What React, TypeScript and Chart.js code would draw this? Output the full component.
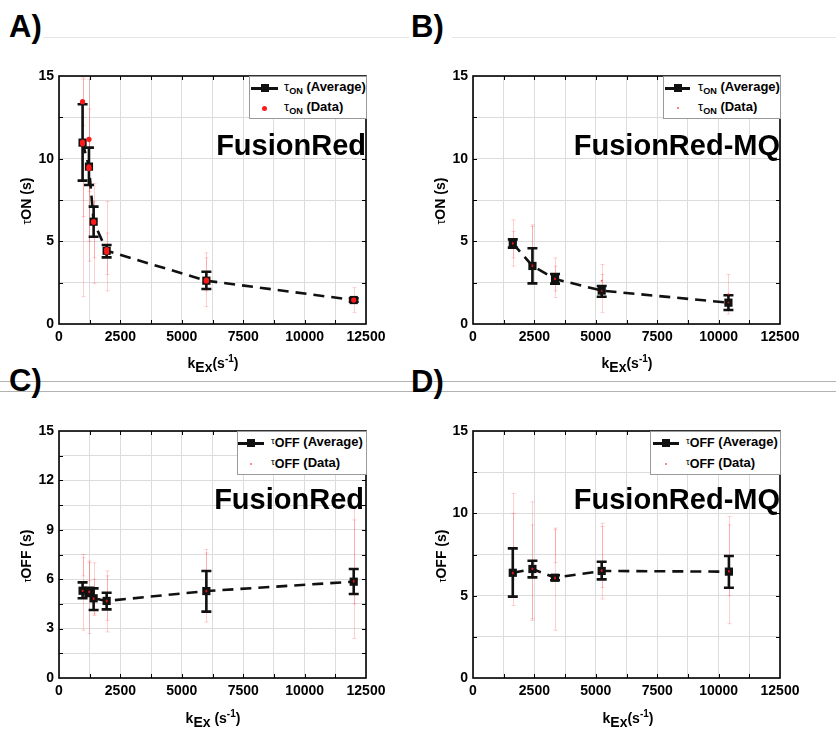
import React, { useEffect, useRef } from "react";
import { Chart, registerables } from "chart.js";

Chart.register(...registerables);

const FONT = '"Liberation Sans", Arial, Helvetica, sans-serif';

// ---------- Panel A : tau_ON, FusionRed ----------
const aAvgX = [960, 1220, 1410, 1940, 6000, 12000];
const aAvgY = [10.97, 9.52, 6.19, 4.43, 2.62, 1.45];
const aAvgLo = [8.67, 8.41, 5.28, 4.03, 2.12, 1.35];
const aAvgHi = [13.29, 10.67, 7.1, 4.78, 3.16, 1.55];
const aDatX = [960, 960, 960, 1220, 1220, 1220, 1410, 1410, 1940, 1940, 6000, 6000, 12000];
const aDatY = [13.45, 11.0, 10.9, 11.17, 9.5, 9.4, 6.2, 6.15, 4.5, 4.35, 2.6, 2.65, 1.45];
const aDatLo = [12.0, 6.5, 1.65, 8.0, 5.0, 3.8, 4.0, 2.45, 2.0, 3.0, 1.05, 2.0, 0.7];
const aDatHi = [14.9, 14.8, 12.5, 14.8, 13.0, 11.0, 8.5, 7.4, 7.4, 5.5, 4.3, 4.0, 2.2];

// ---------- Panel B : tau_ON, FusionRed-MQ ----------
const bAvgX = [1620, 2420, 3340, 5240, 10400];
const bAvgY = [4.88, 3.51, 2.72, 2.02, 1.29];
const bAvgLo = [4.62, 2.46, 2.44, 1.65, 0.85];
const bAvgHi = [5.12, 4.58, 3.02, 2.3, 1.74];
const bDatX = [1620, 1620, 2420, 2420, 3340, 3340, 5240, 5240, 10400, 10400];
const bDatY = [4.9, 4.85, 3.5, 3.55, 2.75, 2.7, 2.62, 2.0, 1.8, 1.3];
const bDatLo = [3.5, 4.0, 2.45, 3.4, 1.6, 2.0, 1.6, 0.7, 0.9, 0.6];
const bDatHi = [6.3, 5.6, 6.0, 5.9, 4.0, 3.5, 3.6, 3.0, 3.0, 1.8];

// ---------- Panel C : tau_OFF, FusionRed ----------
const cAvgX = [960, 1230, 1410, 1940, 6000, 12000];
const cAvgY = [5.3, 5.22, 4.84, 4.68, 5.28, 5.85];
const cAvgLo = [4.84, 4.98, 4.13, 4.17, 4.03, 5.1];
const cAvgHi = [5.81, 5.48, 5.44, 5.18, 6.5, 6.62];
const cDatX = [960, 960, 1230, 1230, 1410, 1410, 1940, 1940, 6000, 6000, 12000, 12000];
const cDatY = [5.3, 5.3, 5.2, 5.25, 4.85, 4.8, 4.7, 4.65, 5.3, 5.25, 5.9, 5.85];
const cDatLo = [2.9, 6.2, 2.7, 5.9, 3.8, 3.9, 2.8, 3.5, 3.4, 5.5, 2.4, 4.5];
const cDatHi = [7.5, 7.3, 7.1, 7.0, 7.0, 6.0, 6.5, 6.2, 7.8, 7.6, 10.3, 9.6];

// ---------- Panel D : tau_OFF, FusionRed-MQ ----------
const dAvgX = [1620, 2420, 3340, 5240, 10420];
const dAvgY = [6.39, 6.62, 6.09, 6.5, 6.46];
const dAvgLo = [4.94, 6.11, 5.94, 5.99, 5.48];
const dAvgHi = [7.87, 7.12, 6.24, 7.06, 7.41];
const dDatX = [1620, 1620, 2420, 2420, 3340, 3340, 5240, 5240, 10420, 10420];
const dDatY = [6.4, 6.35, 6.6, 6.65, 6.1, 6.05, 6.5, 6.55, 6.45, 6.5];
const dDatLo = [4.4, 6.0, 3.5, 3.6, 2.9, 7.0, 4.8, 5.5, 3.3, 5.0];
const dDatHi = [11.2, 10.0, 10.7, 9.3, 9.1, 9.0, 9.4, 9.2, 9.8, 9.3];

// axis ranges / ticks
const xMin = 0;
const xMax = 12500;
const xGridStep = 1250;
const xLabelStep = 2500;
const yMin = 0;
const yMax = 15;

type PanelProps = {
  canvasLeft: number;
  canvasTop: number;
  plotTop: number;
  plotBottom: number;
  avgX: number[];
  avgY: number[];
  avgLo: number[];
  avgHi: number[];
  datX: number[];
  datY: number[];
  datLo: number[];
  datHi: number[];
  yGridStep: number;
  yLabelStep: number;
  dotRadius: number;
  dotColor: string;
};

const CW = 410;
const CH = 300;
const PLOT_LEFT = 59;
const PLOT_RIGHT = 366;

function PanelChart(p: PanelProps) {
  const ref = useRef<HTMLCanvasElement>(null);
  useEffect(() => {
    if (!ref.current) return;
    const topPad = p.plotTop - p.canvasTop;
    const xH = CH - (p.plotBottom - p.canvasTop);

    const errPlugin = {
      id: "errbars",
      beforeDatasetsDraw(chart: any) {
        const { ctx, chartArea: a } = chart;
        const xs = chart.scales.x;
        const ys = chart.scales.y;
        ctx.save();
        ctx.beginPath();
        ctx.rect(a.left, a.top, a.right - a.left, a.bottom - a.top);
        ctx.clip();
        // faint red error bars of individual data
        ctx.strokeStyle = "rgba(255,40,40,0.22)";
        ctx.lineWidth = 1;
        for (let i = 0; i < p.datX.length; i++) {
          const px = Math.round(xs.getPixelForValue(p.datX[i])) + 0.5;
          const y1 = ys.getPixelForValue(p.datLo[i]);
          const y2 = ys.getPixelForValue(p.datHi[i]);
          ctx.beginPath();
          ctx.moveTo(px, y1);
          ctx.lineTo(px, y2);
          ctx.moveTo(px - 2, y1);
          ctx.lineTo(px + 2, y1);
          ctx.moveTo(px - 2, y2);
          ctx.lineTo(px + 2, y2);
          ctx.stroke();
        }
        // black error bars of averages
        ctx.strokeStyle = "#111";
        ctx.lineWidth = 2.6;
        for (let i = 0; i < p.avgX.length; i++) {
          const px = xs.getPixelForValue(p.avgX[i]);
          const y1 = ys.getPixelForValue(p.avgLo[i]);
          const y2 = ys.getPixelForValue(p.avgHi[i]);
          ctx.beginPath();
          ctx.moveTo(px, y1);
          ctx.lineTo(px, y2);
          ctx.moveTo(px - 5, y1);
          ctx.lineTo(px + 5, y1);
          ctx.moveTo(px - 5, y2);
          ctx.lineTo(px + 5, y2);
          ctx.stroke();
        }
        ctx.restore();
      },
      afterDraw(chart: any) {
        const { ctx, chartArea: a } = chart;
        const xs = chart.scales.x;
        const ys = chart.scales.y;
        ctx.save();
        ctx.strokeStyle = "#000";
        ctx.lineWidth = 1;
        ctx.beginPath();
        for (const t of xs.ticks) {
          const px = Math.round(xs.getPixelForValue(t.value)) + 0.5;
          if (px <= a.left + 2 || px >= a.right - 2) continue;
          ctx.moveTo(px, a.bottom);
          ctx.lineTo(px, a.bottom - 4);
          ctx.moveTo(px, a.top);
          ctx.lineTo(px, a.top + 4);
        }
        for (const t of ys.ticks) {
          const py = Math.round(ys.getPixelForValue(t.value)) + 0.5;
          if (py <= a.top + 2 || py >= a.bottom - 2) continue;
          ctx.moveTo(a.left, py);
          ctx.lineTo(a.left + 4, py);
          ctx.moveTo(a.right, py);
          ctx.lineTo(a.right - 4, py);
        }
        ctx.stroke();
        ctx.lineWidth = 1.6;
        ctx.strokeRect(a.left, a.top, a.right - a.left, a.bottom - a.top);
        ctx.restore();
      },
    };

    const isMult = (v: number, s: number) => Math.abs(v / s - Math.round(v / s)) < 1e-6;

    const chart = new Chart(ref.current, {
      type: "scatter",
      data: {
        datasets: [
          {
            label: "Data",
            data: p.datX.map((x, i) => ({ x, y: p.datY[i] })),
            showLine: false,
            pointStyle: "circle",
            pointRadius: p.dotRadius,
            pointBackgroundColor: p.dotColor,
            pointBorderWidth: 0,
          },
          {
            label: "Average",
            data: p.avgX.map((x, i) => ({ x, y: p.avgY[i] })),
            showLine: true,
            borderColor: "#111",
            borderWidth: 2.6,
            borderDash: [11, 7],
            pointStyle: "rect",
            pointRadius: 5.8,
            pointBackgroundColor: "#111",
            pointBorderColor: "#111",
            pointBorderWidth: 0,
          },
        ],
      },
      options: {
        animation: false,
        responsive: false,
        maintainAspectRatio: false,
        events: [],
        layout: { padding: { left: 0, top: topPad, right: CW - PLOT_RIGHT, bottom: 0 } },
        plugins: { legend: { display: false }, tooltip: { enabled: false } },
        scales: {
          x: {
            type: "linear",
            min: xMin,
            max: xMax,
            ticks: {
              stepSize: xGridStep,
              autoSkip: false,
              maxRotation: 0,
              padding: 5,
              color: "#000",
              font: { family: FONT, size: 14, weight: "bold" },
              callback: (v: any) => (isMult(Number(v), xLabelStep) ? String(v) : ""),
            },
            grid: { color: "#dcdcdc", lineWidth: 1, drawTicks: false },
            border: { display: false },
            afterFit: (s: any) => {
              s.height = xH;
            },
          },
          y: {
            type: "linear",
            min: yMin,
            max: yMax,
            ticks: {
              stepSize: p.yGridStep,
              autoSkip: false,
              padding: 5,
              color: "#000",
              font: { family: FONT, size: 14, weight: "bold" },
              callback: (v: any) => (isMult(Number(v), p.yLabelStep) ? String(Math.round(Number(v))) : ""),
            },
            grid: { color: "#dcdcdc", lineWidth: 1, drawTicks: false },
            border: { display: false },
            afterFit: (s: any) => {
              s.width = PLOT_LEFT;
            },
          },
        },
      } as any,
      plugins: [errPlugin],
    });
    return () => chart.destroy();
  }, []);

  return (
    <canvas
      ref={ref}
      width={CW}
      height={CH}
      style={{ position: "absolute", left: p.canvasLeft, top: p.canvasTop, width: CW, height: CH }}
    />
  );
}

const abs = (o: any): React.CSSProperties => ({ position: "absolute", whiteSpace: "nowrap", ...o });

function TauOn({ size }: { size: number }) {
  return (
    <>
      <span style={{ fontWeight: "normal", fontSize: size }}>τ</span>
      <span style={{ fontSize: size * 0.7, position: "relative", top: 3 }}>ON</span>
    </>
  );
}
function TauOff({ size }: { size: number }) {
  return (
    <>
      <span style={{ fontWeight: "normal", fontSize: size * 0.75, position: "relative", top: -2 }}>τ</span>
      <span style={{ fontSize: size, position: "relative", top: 1 }}>OFF</span>
    </>
  );
}

function Legend(props: {
  left: number;
  top: number;
  width: number;
  height: number;
  iconL: number;
  iconR: number;
  textL: number;
  row1: number;
  row2: number;
  big: boolean;
  tau: React.ReactNode;
}) {
  const mid = (props.iconL + props.iconR) / 2;
  const dot = props.big ? 5 : 2;
  return (
    <div
      style={abs({
        left: props.left,
        top: props.top,
        width: props.width,
        height: props.height,
        background: "#fff",
        border: "1px solid #9a9a9a",
        boxSizing: "border-box",
      })}
    >
      <div style={abs({ left: props.iconL, top: props.row1 - 1, width: props.iconR - props.iconL, height: 2.5, background: "#111" })} />
      <div style={abs({ left: mid - 4, top: props.row1 - 4, width: 8, height: 8, background: "#111" })} />
      <div style={abs({ left: mid - dot / 2, top: props.row2 - dot / 2, width: dot, height: dot, borderRadius: "50%", background: props.big ? "#ff1a1a" : "rgba(255,30,30,0.7)" })} />
      <div style={abs({ left: props.textL, top: props.row1 - 9, lineHeight: "16px", fontSize: 13, fontWeight: "bold" })}>
        {props.tau} (Average)
      </div>
      <div style={abs({ left: props.textL, top: props.row2 - 9, lineHeight: "16px", fontSize: 13, fontWeight: "bold" })}>
        {props.tau} (Data)
      </div>
    </div>
  );
}

function XTitle({ cx, top, space }: { cx: number; top: number; space: boolean }) {
  return (
    <div style={abs({ left: cx - 60, width: 120, top, textAlign: "center", fontSize: 14, lineHeight: "14px", fontWeight: "bold" })}>
      <span>k</span>
      <span style={{ fontSize: 14, position: "relative", top: 4 }}>Ex</span>
      {space ? " " : ""}
      <span>(s</span>
      <span style={{ fontSize: 10, position: "relative", top: -6 }}>-1</span>
      <span>)</span>
    </div>
  );
}

function YTitle({ cx, cy, off }: { cx: number; cy: number; off: boolean }) {
  return (
    <div
      style={abs({
        left: cx,
        top: cy,
        transform: "translate(-50%, -50%) rotate(-90deg)",
        fontSize: 14,
        lineHeight: "16px",
        fontWeight: "bold",
      })}
    >
      <span style={{ fontWeight: "normal", fontSize: off ? 10 : 12 }}>τ</span>
      {off ? "OFF (s)" : "ON (s)"}
    </div>
  );
}

function Name({ right, baseline, text }: { right: number; baseline: number; text: string }) {
  return (
    <div
      style={abs({
        left: right - 300,
        width: 300,
        textAlign: "right",
        top: baseline - 0.8465 * 29,
        fontSize: 29,
        lineHeight: "29px",
        fontWeight: "bold",
        color: "#000",
      })}
    >
      {text}
    </div>
  );
}

function PanelLabel({ left, top, text }: { left: number; top: number; text: string }) {
  return <div style={abs({ left, top, fontSize: 31, lineHeight: "31px", fontWeight: "bold" })}>{text}</div>;
}

export default function App() {
  return (
    <div
      style={{
        position: "absolute",
        left: 0,
        top: 0,
        width: 836,
        height: 729,
        background: "#fff",
        overflow: "hidden",
        fontFamily: FONT,
        color: "#000",
      }}
    >
      <div style={abs({ left: 43, top: 37, width: 366, height: 1, background: "#e6e6e6" })} />
      <div style={abs({ left: 452, top: 37, width: 384, height: 1, background: "#e6e6e6" })} />
      <div style={abs({ left: 0, top: 381, width: 836, height: 1, background: "#b2b2b2" })} />
      <div style={abs({ left: 0, top: 391, width: 836, height: 1, background: "#b2b2b2" })} />

      <PanelChart
        canvasLeft={0}
        canvasTop={60}
        plotTop={76}
        plotBottom={324}
        avgX={aAvgX}
        avgY={aAvgY}
        avgLo={aAvgLo}
        avgHi={aAvgHi}
        datX={aDatX}
        datY={aDatY}
        datLo={aDatLo}
        datHi={aDatHi}
        yGridStep={2.5}
        yLabelStep={5}
        dotRadius={2.6}
        dotColor="#ff1a1a"
      />
      <PanelChart
        canvasLeft={414}
        canvasTop={60}
        plotTop={76}
        plotBottom={324}
        avgX={bAvgX}
        avgY={bAvgY}
        avgLo={bAvgLo}
        avgHi={bAvgHi}
        datX={bDatX}
        datY={bDatY}
        datLo={bDatLo}
        datHi={bDatHi}
        yGridStep={2.5}
        yLabelStep={5}
        dotRadius={1}
        dotColor="rgba(255,30,30,0.7)"
      />
      <PanelChart
        canvasLeft={0}
        canvasTop={415}
        plotTop={431}
        plotBottom={678}
        avgX={cAvgX}
        avgY={cAvgY}
        avgLo={cAvgLo}
        avgHi={cAvgHi}
        datX={cDatX}
        datY={cDatY}
        datLo={cDatLo}
        datHi={cDatHi}
        yGridStep={1.5}
        yLabelStep={3}
        dotRadius={1}
        dotColor="rgba(255,30,30,0.7)"
      />
      <PanelChart
        canvasLeft={414}
        canvasTop={415}
        plotTop={431}
        plotBottom={678}
        avgX={dAvgX}
        avgY={dAvgY}
        avgLo={dAvgLo}
        avgHi={dAvgHi}
        datX={dDatX}
        datY={dDatY}
        datLo={dDatLo}
        datHi={dDatHi}
        yGridStep={2.5}
        yLabelStep={5}
        dotRadius={1}
        dotColor="rgba(255,30,30,0.7)"
      />

      <PanelLabel left={9} top={11} text="A)" />
      <PanelLabel left={411} top={11} text="B)" />
      <PanelLabel left={9} top={365} text="C)" />
      <PanelLabel left={411} top={366} text="D)" />

      <Name right={366} baseline={156} text="FusionRed" />
      <Name right={780} baseline={156} text="FusionRed-MQ" />
      <Name right={364} baseline={510} text="FusionRed" />
      <Name right={780} baseline={510} text="FusionRed-MQ" />

      <Legend left={249} top={76} width={118} height={43} iconL={1} iconR={28} textL={34} row1={11} row2={31} big={true} tau={<TauOn size={13} />} />
      <Legend left={663} top={76} width={118} height={43} iconL={1} iconR={26} textL={34} row1={11} row2={31} big={false} tau={<TauOn size={13} />} />
      <Legend left={237} top={431} width={130} height={44} iconL={0} iconR={26} textL={33} row1={11} row2={32} big={false} tau={<TauOff size={12.5} />} />
      <Legend left={650} top={431} width={131} height={44} iconL={2} iconR={28} textL={35} row1={11} row2={32} big={false} tau={<TauOff size={12.5} />} />

      <XTitle cx={213} top={356} space={false} />
      <XTitle cx={627} top={356} space={false} />
      <XTitle cx={213} top={711} space={true} />
      <XTitle cx={628} top={711} space={false} />

      <YTitle cx={26} cy={201} off={false} />
      <YTitle cx={440} cy={201} off={false} />
      <YTitle cx={27} cy={556} off={true} />
      <YTitle cx={442} cy={556} off={true} />
    </div>
  );
}
